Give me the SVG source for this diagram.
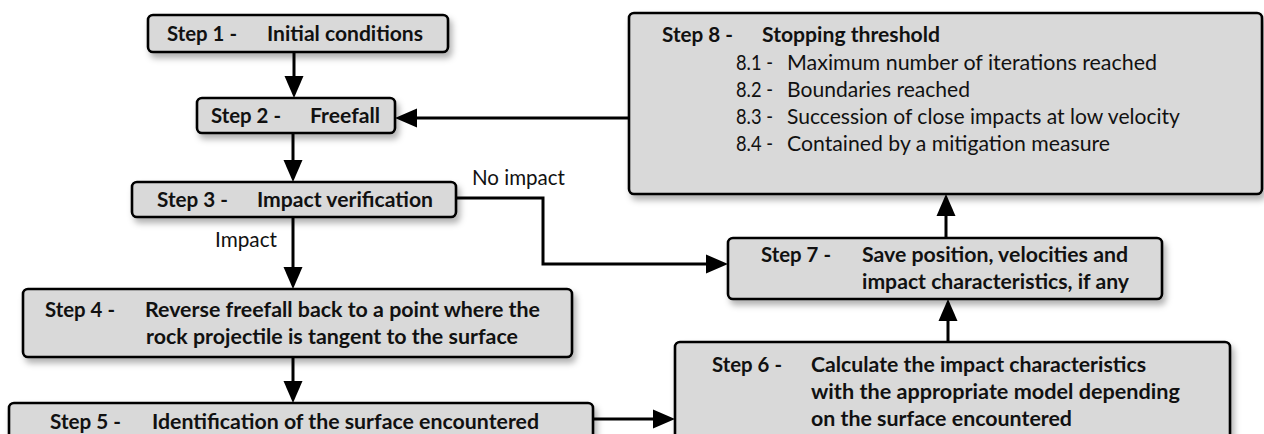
<svg xmlns="http://www.w3.org/2000/svg" width="1264" height="434" viewBox="0 0 1264 434">
<style>
.box{fill:#d9d9d9;stroke:#000;stroke-width:2.6;filter:url(#sh)}
.b{font-family:Lato,"Liberation Sans",sans-serif;font-weight:700;font-size:21px;fill:#111}
.r{font-family:Lato,"Liberation Sans",sans-serif;font-weight:400;font-size:21px;fill:#111}
.c{fill:none;stroke:#000;stroke-width:3;marker-end:url(#ah)}
</style>
<defs>
<filter id="sh" x="-10%" y="-20%" width="130%" height="160%">
<feDropShadow dx="3" dy="5" stdDeviation="3" flood-color="#000" flood-opacity="0.3"/>
</filter>
<marker id="ah" markerWidth="24" markerHeight="20" refX="9" refY="10" orient="auto" markerUnits="userSpaceOnUse">
<path d="M0,0.5 L22,10 L0,19.5 z" fill="#000"/>
</marker>
</defs>
<rect width="1264" height="434" fill="#fff"/>

<g id="connectors">
<path class="c" d="M294,52 V85"/>
<path class="c" d="M293,133 V169"/>
<path class="c" d="M293,217 V276"/>
<path class="c" d="M293,357 V390"/>
<path class="c" d="M456,198 H543 V264 H715"/>
<path class="c" d="M593,419 H662"/>
<path class="c" d="M948,342 V312"/>
<path class="c" d="M946,238 V207"/>
<path class="c" d="M629,118 H408"/>
<text class="r" x="472" y="185" textLength="93" lengthAdjust="spacingAndGlyphs">No impact</text>
<text class="r" x="215" y="247" textLength="62" lengthAdjust="spacingAndGlyphs">Impact</text>
</g>

<g id="step1">
<rect class="box" x="148" y="15" width="300" height="37" rx="5"/>
<text class="b" x="167" y="41" textLength="70" lengthAdjust="spacingAndGlyphs">Step 1 -</text>
<text class="b" x="267" y="41" textLength="156" lengthAdjust="spacingAndGlyphs">Initial conditions</text>
</g>

<g id="step2">
<rect class="box" x="197" y="98" width="198" height="35" rx="5"/>
<text class="b" x="211" y="123" textLength="70" lengthAdjust="spacingAndGlyphs">Step 2 -</text>
<text class="b" x="310" y="123" textLength="70" lengthAdjust="spacingAndGlyphs">Freefall</text>
</g>

<g id="step3">
<rect class="box" x="132" y="182" width="324" height="35" rx="5"/>
<text class="b" x="157" y="207" textLength="71" lengthAdjust="spacingAndGlyphs">Step 3 -</text>
<text class="b" x="257" y="207" textLength="176" lengthAdjust="spacingAndGlyphs">Impact verification</text>
</g>

<g id="step4">
<rect class="box" x="23" y="289" width="549" height="68" rx="5"/>
<text class="b" x="45" y="317" textLength="70" lengthAdjust="spacingAndGlyphs">Step 4 -</text>
<text class="b" x="145" y="317" textLength="395" lengthAdjust="spacingAndGlyphs">Reverse freefall back to a point where the</text>
<text class="b" x="146" y="344" textLength="372" lengthAdjust="spacingAndGlyphs">rock projectile is tangent to the surface</text>
</g>

<g id="step5">
<rect class="box" x="9" y="403" width="584" height="60" rx="5"/>
<text class="b" x="50" y="429" textLength="71" lengthAdjust="spacingAndGlyphs">Step 5 -</text>
<text class="b" x="152" y="429" textLength="387" lengthAdjust="spacingAndGlyphs">Identification of the surface encountered</text>
</g>

<g id="step6">
<rect class="box" x="675" y="342" width="555" height="120" rx="5"/>
<text class="b" x="712" y="372" textLength="70" lengthAdjust="spacingAndGlyphs">Step 6 -</text>
<text class="b" x="811" y="372" textLength="335" lengthAdjust="spacingAndGlyphs">Calculate the impact characteristics</text>
<text class="b" x="811" y="399" textLength="369" lengthAdjust="spacingAndGlyphs">with the appropriate model depending</text>
<text class="b" x="811" y="426" textLength="261" lengthAdjust="spacingAndGlyphs">on the surface encountered</text>
</g>

<g id="step7">
<rect class="box" x="728" y="238" width="434" height="61" rx="5"/>
<text class="b" x="761" y="262" textLength="70" lengthAdjust="spacingAndGlyphs">Step 7 -</text>
<text class="b" x="862" y="262" textLength="266" lengthAdjust="spacingAndGlyphs">Save position, velocities and</text>
<text class="b" x="862" y="289" textLength="267" lengthAdjust="spacingAndGlyphs">impact characteristics, if any</text>
</g>

<g id="step8">
<rect class="box" x="629" y="13" width="633" height="181" rx="5"/>
<text class="b" x="662" y="42" textLength="71" lengthAdjust="spacingAndGlyphs">Step 8 -</text>
<text class="b" x="762" y="42" textLength="178" lengthAdjust="spacingAndGlyphs">Stopping threshold</text>
<text class="r" x="736" y="70" textLength="37" lengthAdjust="spacingAndGlyphs">8.1 -</text>
<text class="r" x="787" y="70" textLength="370" lengthAdjust="spacingAndGlyphs">Maximum number of iterations reached</text>
<text class="r" x="736" y="97" textLength="37" lengthAdjust="spacingAndGlyphs">8.2 -</text>
<text class="r" x="787" y="97" textLength="183" lengthAdjust="spacingAndGlyphs">Boundaries reached</text>
<text class="r" x="736" y="124" textLength="37" lengthAdjust="spacingAndGlyphs">8.3 -</text>
<text class="r" x="787" y="124" textLength="393" lengthAdjust="spacingAndGlyphs">Succession of close impacts at low velocity</text>
<text class="r" x="736" y="151" textLength="37" lengthAdjust="spacingAndGlyphs">8.4 -</text>
<text class="r" x="787" y="151" textLength="323" lengthAdjust="spacingAndGlyphs">Contained by a mitigation measure</text>
</g>
</svg>
